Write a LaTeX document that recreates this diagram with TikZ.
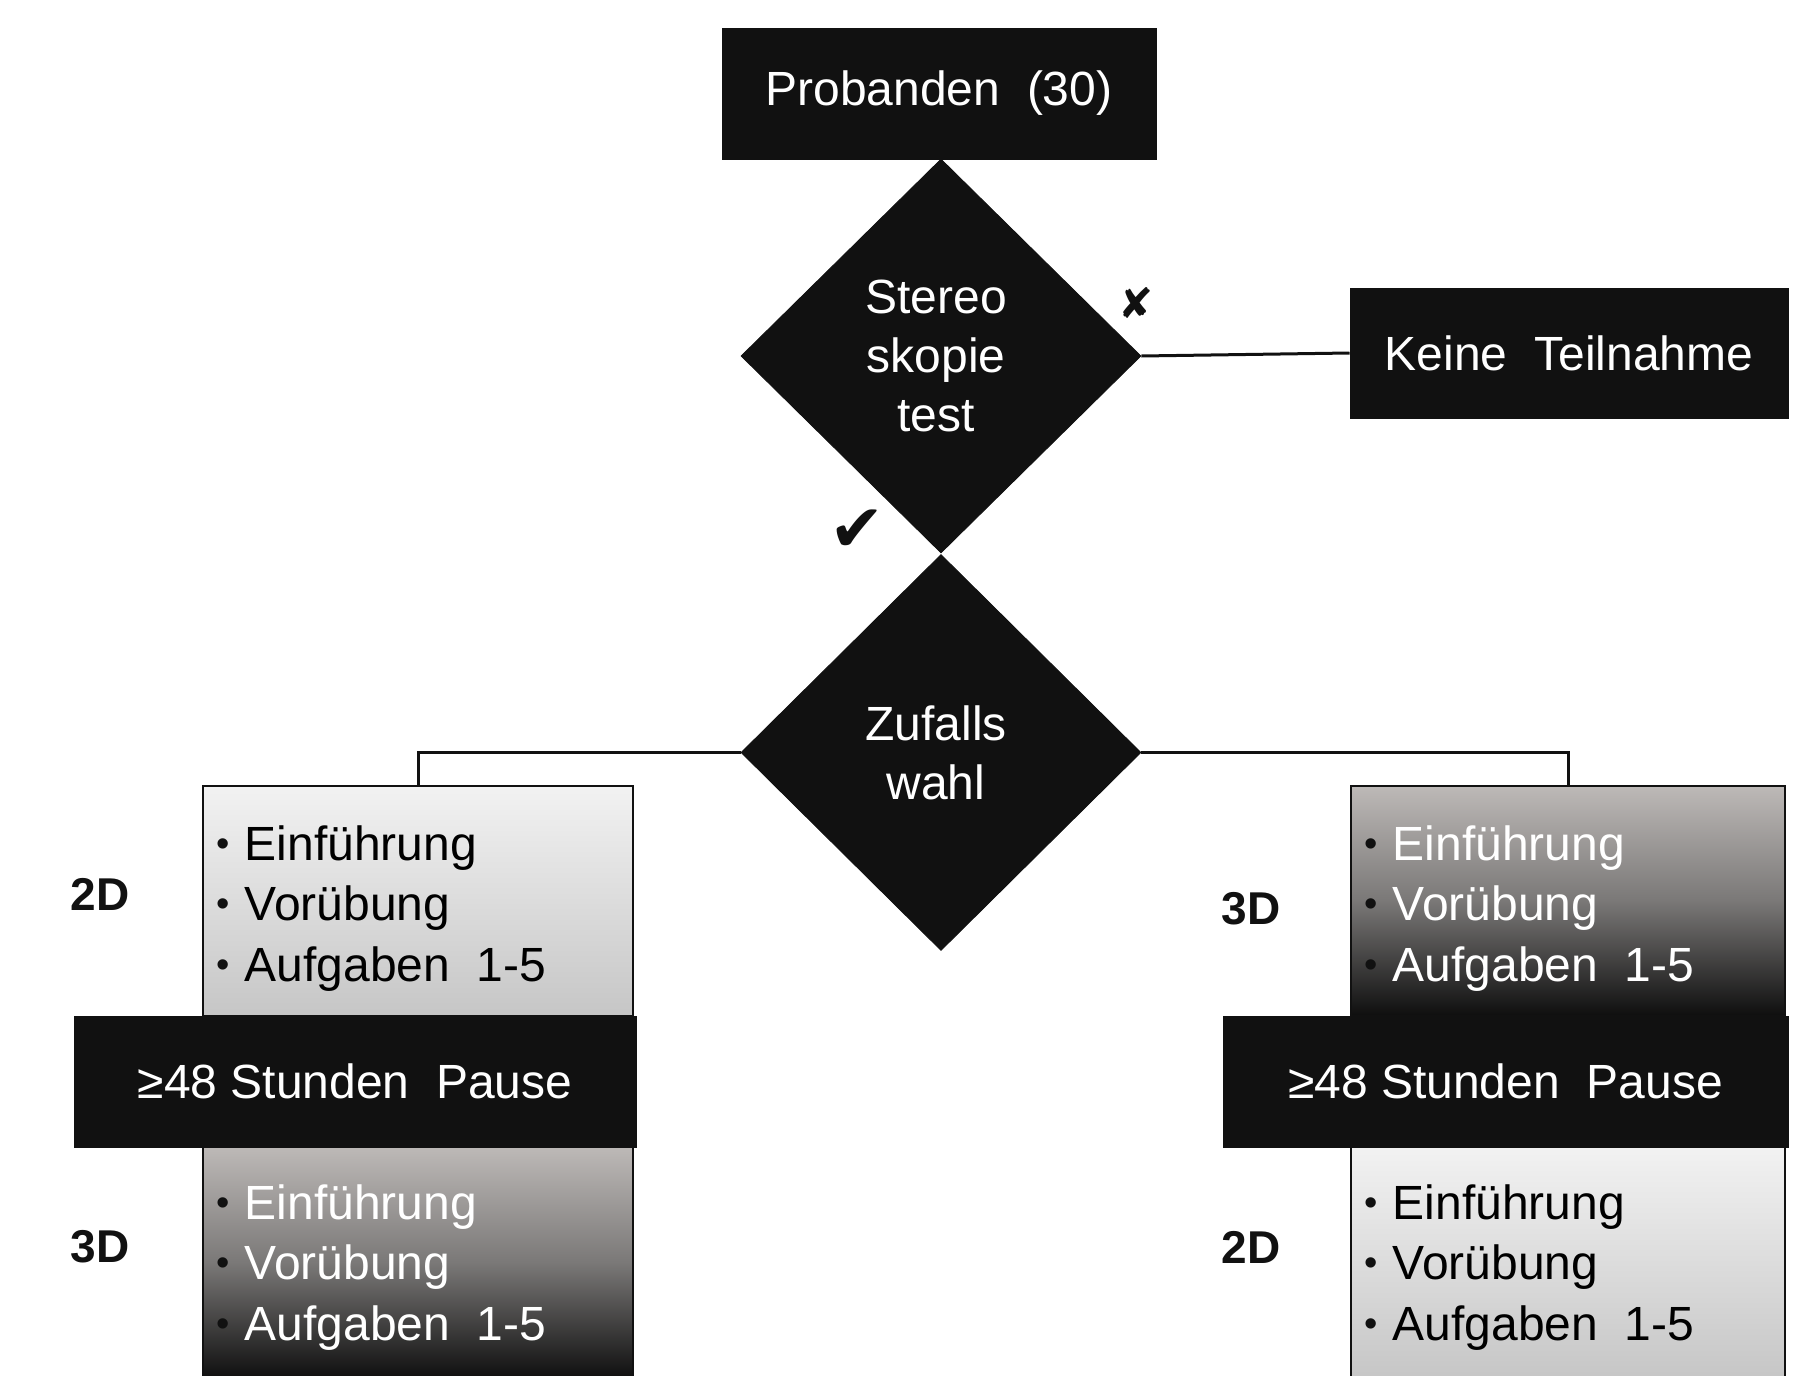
\documentclass[tikz,border=0pt]{standalone}
\usepackage{fontspec}
\setmainfont{Liberation Sans}
\newfontfamily\symfont{DejaVu Sans}
\usetikzlibrary{shapes.geometric}
\definecolor{boxblack}{HTML}{111111}
\definecolor{lighttop}{HTML}{F2F2F2}
\definecolor{lightbot}{HTML}{C6C6C6}
\definecolor{darktop}{HTML}{BDB9B7}
\definecolor{darkmid}{HTML}{7A7877}
\definecolor{darkbot}{HTML}{0E0E0E}
\newcommand\bul{\raisebox{1.8pt}{\fontsize{19}{19}\selectfont\textcolor{boxblack}{•}}\hspace{7.5pt}}
\tikzset{
  blackbox/.style={draw=boxblack, fill=boxblack, text=white, inner sep=0pt, line width=0.5pt,
    font=\fontsize{24}{29.5}\selectfont},
  diamondbox/.style={diamond, draw=boxblack, fill=boxblack, text=white, inner sep=0pt, align=center,
    font=\fontsize{24}{29.5}\selectfont},
  lightbox/.style={draw=boxblack, line width=1pt, top color=lighttop, bottom color=lightbot, inner sep=0pt},
  darkbox/.style={draw=boxblack, line width=1pt, inner sep=0pt,
    shading=axis, top color=darktop, bottom color=darkbot, middle color=darkmid},
  conn/.style={draw=boxblack, line width=1.5pt},
  itemtxt/.style={anchor=base west, inner sep=0pt, font=\fontsize{24}{29.5}\selectfont},
  dimlabel/.style={inner sep=0pt, font=\fontsize{23}{28}\selectfont\bfseries, text=boxblack},
}
\begin{document}
\begin{tikzpicture}[x=0.5pt,y=-0.5pt]
\useasboundingbox[fill=white] (0,0) rectangle (1806,1376);

% top
\node (prob) [blackbox, minimum width=217pt, minimum height=65.5pt] at (939,93.5) {Probanden\ \ (30)};
\node (d1) [diamondbox, minimum width=200pt, minimum height=197pt] at (941,356) {Stereo\kern5pt\\skopie\kern5pt\\test\kern5pt};
\node (keine) [blackbox, minimum width=219pt, minimum height=65pt] at (1569,353) {Keine\ \ Teilnahme};
\node (d2) [diamondbox, minimum width=200pt, minimum height=198pt] at (941,752.5) {Zufalls\kern5pt\\wahl\kern5pt};

\node (xmark) [inner sep=0pt, font=\symfont\fontsize{21}{21}\selectfont, text=boxblack] at (1136,303) {✘};
\node (check) [inner sep=0pt, font=\symfont\fontsize{33}{33}\selectfont, text=boxblack] at (857,531) {✔};

% boxes
\node (lA) [lightbox, minimum width=215pt, minimum height=115pt] at (418,901) {};
\node (lB) [darkbox, minimum width=215pt, minimum height=116pt] at (418,1263) {};
\node (lP) [blackbox, minimum width=281pt, minimum height=65.5pt] at (355,1081.5) {≥48 Stunden\ \ Pause};

\node (rA) [darkbox, minimum width=217pt, minimum height=115pt] at (1568,901) {};
\node (rB) [lightbox, minimum width=217pt, minimum height=116pt] at (1568,1263) {};
\node (rP) [blackbox, minimum width=282.5pt, minimum height=65.5pt] at (1505.5,1081.5) {≥48 Stunden\ \ Pause};

% connectors
\draw[conn] (d1.east) -- (keine.west);
\draw[conn] (d2.west) -| (lA.north);
\draw[conn] (d2.east) -| (rA.north);

% labels
\node (l2d) [dimlabel] at (100,894) {2D};
\node (l3d) [dimlabel] at (100,1247) {3D};
\node (r3d) [dimlabel] at (1251,909) {3D};
\node (r2d) [dimlabel] at (1251,1247) {2D};

% left upper (2D, black text)
\node (la1) [itemtxt] at (216,860) {\bul Einführung};
\node (la2) [itemtxt] at (216,920) {\bul Vorübung};
\node (la3) [itemtxt] at (216,981) {\bul Aufgaben\ \ 1-5};
% left lower (3D, white text)
\node (lb1) [itemtxt] at (216,1219) {\bul\textcolor{white}{Einführung}};
\node (lb2) [itemtxt] at (216,1279) {\bul\textcolor{white}{Vorübung}};
\node (lb3) [itemtxt] at (216,1340) {\bul\textcolor{white}{Aufgaben\ \ 1-5}};
% right upper (3D, white text)
\node (ra1) [itemtxt] at (1364,860) {\bul\textcolor{white}{Einführung}};
\node (ra2) [itemtxt] at (1364,920) {\bul\textcolor{white}{Vorübung}};
\node (ra3) [itemtxt] at (1364,981) {\bul\textcolor{white}{Aufgaben\ \ 1-5}};
% right lower (2D, black text)
\node (rb1) [itemtxt] at (1364,1219) {\bul Einführung};
\node (rb2) [itemtxt] at (1364,1279) {\bul Vorübung};
\node (rb3) [itemtxt] at (1364,1340) {\bul Aufgaben\ \ 1-5};
\end{tikzpicture}
\end{document}
